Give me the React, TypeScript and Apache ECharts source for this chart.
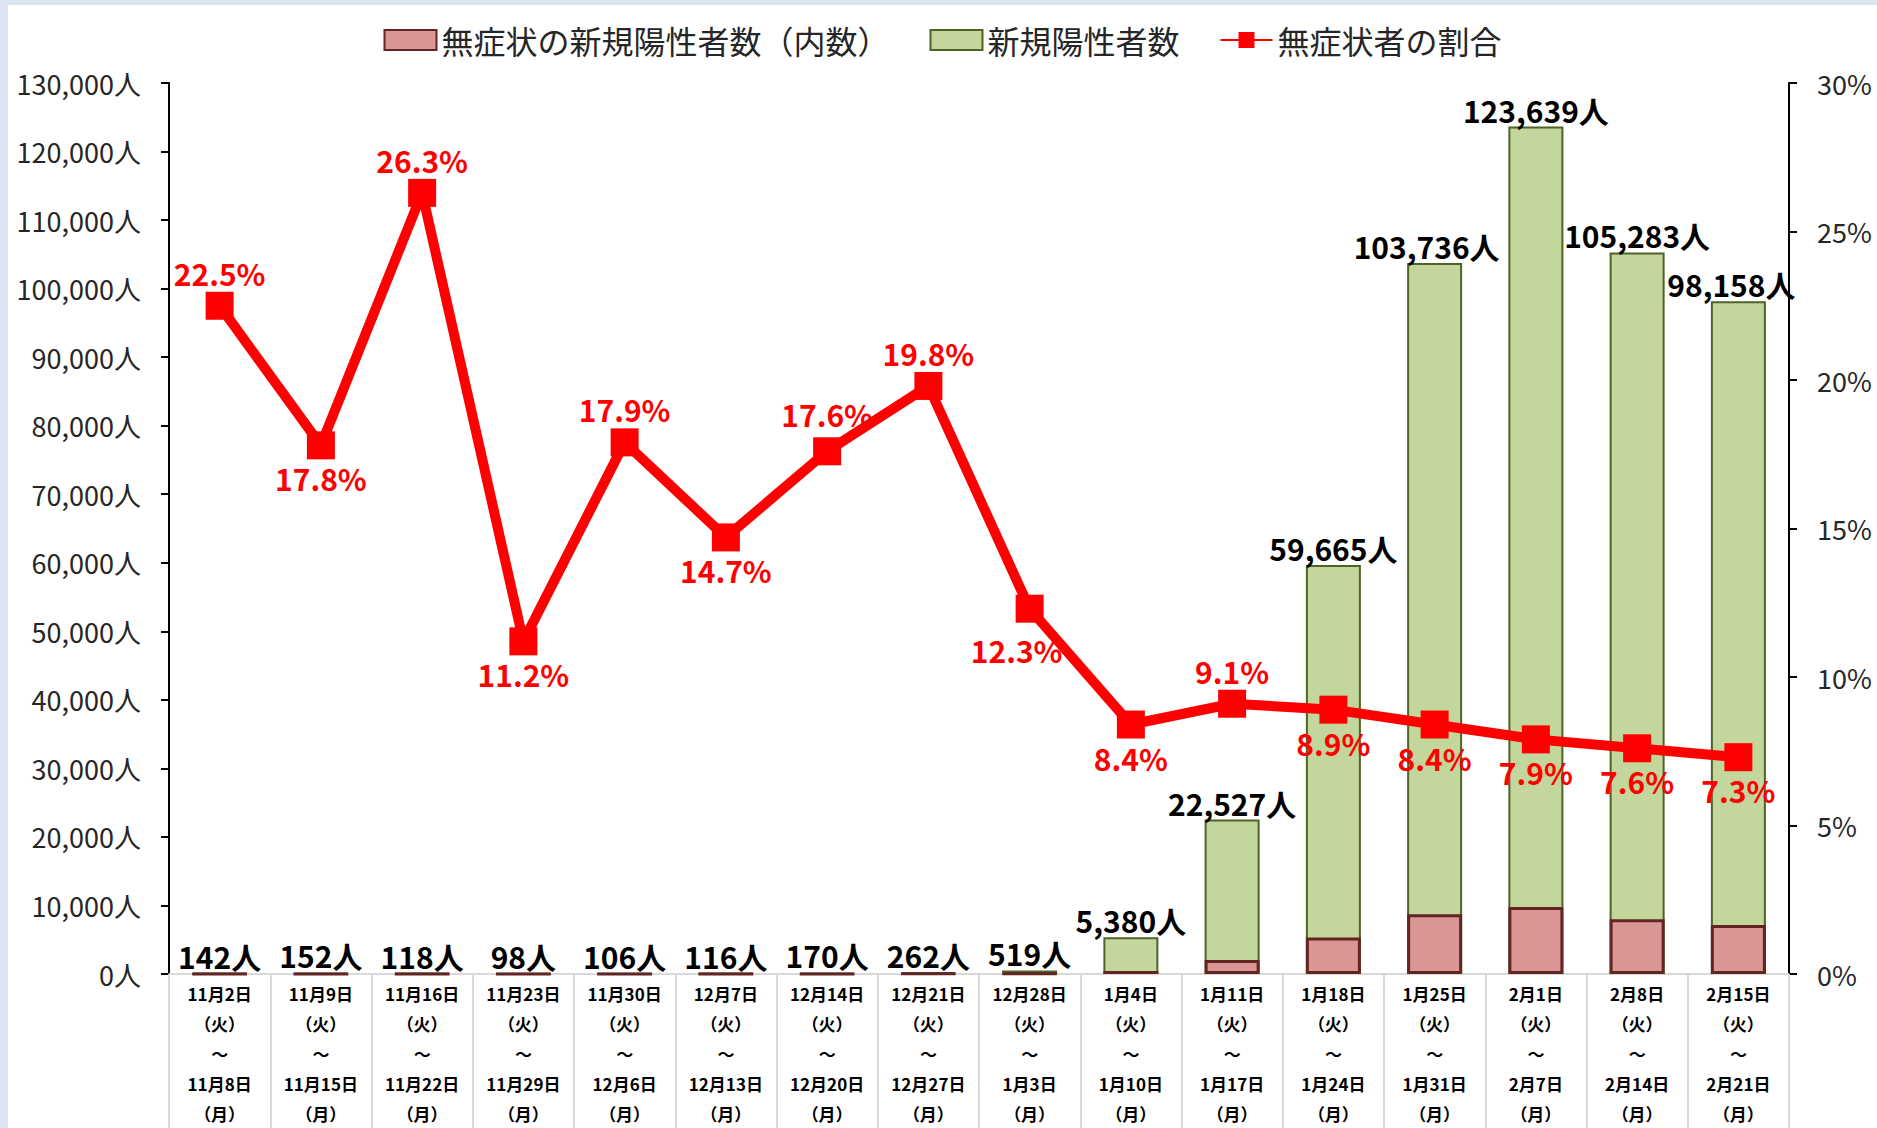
import React, { useEffect, useRef } from "react";
import * as echarts from "echarts";

const startDates = ["11月2日", "11月9日", "11月16日", "11月23日", "11月30日", "12月7日", "12月14日", "12月21日", "12月28日", "1月4日", "1月11日", "1月18日", "1月25日", "2月1日", "2月8日", "2月15日"];
const endDates = ["11月8日", "11月15日", "11月22日", "11月29日", "12月6日", "12月13日", "12月20日", "12月27日", "1月3日", "1月10日", "1月17日", "1月24日", "1月31日", "2月7日", "2月14日", "2月21日"];
const totalCases = [142, 152, 118, 98, 106, 116, 170, 262, 519, 5380, 22527, 59665, 103736, 123639, 105283, 98158];
const asymptomaticCases = [32, 27, 31, 11, 19, 17, 30, 52, 64, 452, 2050, 5310, 8714, 9767, 8002, 7166];
const asymptomaticRatio = [22.5, 17.8, 26.3, 11.2, 17.9, 14.7, 17.6, 19.8, 12.3, 8.4, 9.1, 8.9, 8.4, 7.9, 7.6, 7.3];
const ratioLabelPos = ["top", "bottom", "top", "bottom", "top", "bottom", "top", "top", "bottom", "bottom", "top", "bottom", "bottom", "bottom", "bottom", "bottom"];

const FONT = "'Noto Sans CJK JP', 'Noto Sans', sans-serif";

export default function App() {
  const ref = useRef<HTMLDivElement>(null);
  useEffect(() => {
    if (!ref.current) return;
    const chart = echarts.init(ref.current, null, { renderer: "svg" });
    const categories = startDates.map((s, i) => `${s}\n（火）\n～\n${endDates[i]}\n（月）`);
    const option = {
      animation: false,
      textStyle: { fontFamily: FONT },
      legend: {
        top: 14,
        left: "center",
        itemWidth: 52,
        itemHeight: 20,
        itemGap: 40,
        textStyle: { fontSize: 32, color: "#262626", fontFamily: FONT },
        data: [
          { name: "無症状の新規陽性者数（内数）", icon: "rect" },
          { name: "新規陽性者数", icon: "rect" },
          { name: "無症状者の割合" },
        ],
      },
      grid: { left: 161, right: 88, top: 78, bottom: 153, containLabel: false },
      xAxis: {
        type: "category",
        data: categories,
        boundaryGap: true,
        axisLine: { show: true, lineStyle: { color: "#d9d9d9", width: 2 } },
        axisTick: { show: true, length: 160, interval: 0, alignWithLabel: false, lineStyle: { color: "#d9d9d9", width: 2 } },
        axisLabel: { interval: 0, fontSize: 17, fontWeight: "bold", color: "#000", lineHeight: 30, margin: 4, fontFamily: FONT },
      },
      yAxis: [
        {
          type: "value",
          min: 0,
          max: 130000,
          interval: 10000,
          position: "left",
          axisLine: { show: true, lineStyle: { color: "#000", width: 2 } },
          axisTick: { show: true, length: 8, lineStyle: { color: "#000", width: 2 } },
          splitLine: { show: false },
          axisLabel: {
            fontSize: 27,
            color: "#262626",
            margin: 28,
            fontFamily: FONT,
            formatter: (v: number) => v.toLocaleString("en-US") + "人",
          },
        },
        {
          type: "value",
          min: 0,
          max: 30,
          interval: 5,
          position: "right",
          axisLine: { show: true, lineStyle: { color: "#000", width: 2 } },
          axisTick: { show: true, length: 8, lineStyle: { color: "#000", width: 2 } },
          splitLine: { show: false },
          axisLabel: { fontSize: 27, color: "#262626", margin: 28, fontFamily: FONT, formatter: "{value}%" },
        },
      ],
      series: [
        {
          name: "無症状の新規陽性者数（内数）",
          type: "bar",
          yAxisIndex: 0,
          data: asymptomaticCases,
          barWidth: 55,
          barGap: "-100%",
          z: 3,
          itemStyle: { color: "#d99694", borderColor: "#632523", borderWidth: 3 },
        },
        {
          name: "新規陽性者数",
          type: "bar",
          yAxisIndex: 0,
          barWidth: 55,
          barGap: "-100%",
          z: 2,
          data: totalCases.map((v, i) => ({
            value: v,
            label: i === 12 ? { offset: [-8, 0] } : i === 15 ? { offset: [-7, 0] } : {},
          })),
          itemStyle: { color: "#c3d69b", borderColor: "#4f6228", borderWidth: 2 },
          label: {
            show: true,
            position: "top",
            distance: 2,
            fontSize: 30,
            fontWeight: "bold",
            color: "#000",
            fontFamily: FONT,
            formatter: (p: any) => Number(p.value).toLocaleString("en-US") + "人",
          },
        },
        {
          name: "無症状者の割合",
          type: "line",
          yAxisIndex: 1,
          z: 5,
          symbol: "rect",
          symbolSize: 28,
          lineStyle: { color: "#ff0000", width: 10 },
          itemStyle: { color: "#ff0000" },
          data: asymptomaticRatio.map((v, i) => ({
            value: v,
            label: {
              position: ratioLabelPos[i],
              offset: i === 8 ? [-13, 8] : i === 6 ? [0, -4] : [0, 0],
            },
          })),
          label: {
            show: true,
            fontSize: 30,
            fontWeight: "bold",
            color: "#ff0000",
            distance: 4,
            fontFamily: FONT,
            formatter: (p: any) => p.value + "%",
          },
        },
      ],
    };
    chart.setOption(option as any);
    return () => chart.dispose();
  }, []);
  return (
    <div style={{ position: "fixed", left: 0, top: 0, width: 1877, height: 1128, background: "#dce6f2", overflow: "hidden" }}>
      <div ref={ref} style={{ position: "absolute", left: 8, top: 5, width: 1869, height: 1123, background: "#fff" }} />
    </div>
  );
}
